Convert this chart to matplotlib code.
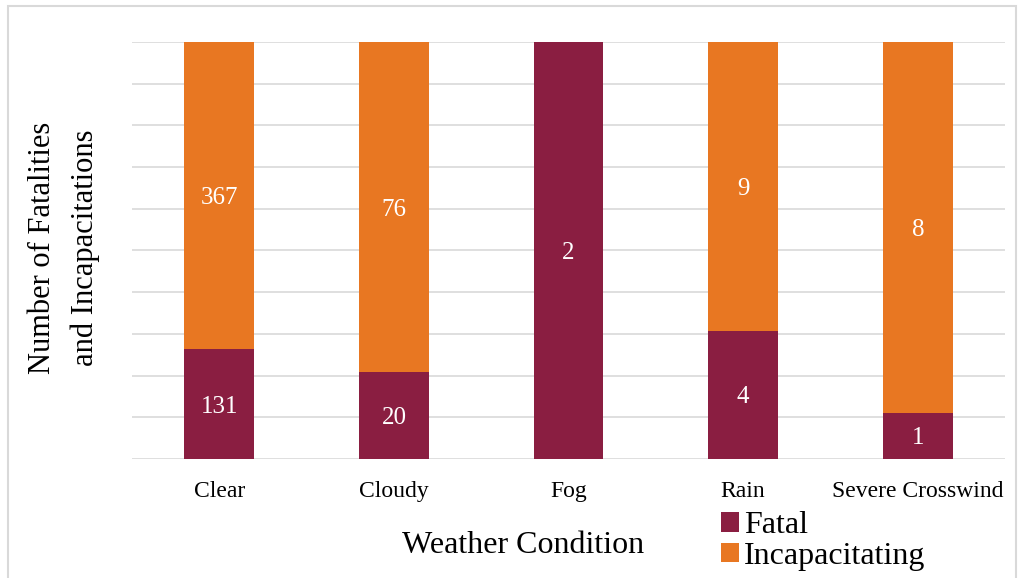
import numpy as np
import matplotlib.pyplot as plt
from matplotlib.patches import Rectangle

plt.rcParams['font.family'] = ['Liberation Serif', 'DejaVu Serif']

conditions = ['Clear', 'Cloudy', 'Fog', 'Rain', 'Severe Crosswind']
fatal = np.array([131, 20, 2, 4, 1])
incap = np.array([367, 76, 0, 9, 8])

fatal_color = '#8A1E41'
incap_color = '#E87722'

total = fatal + incap
fatal_pct = fatal / total * 100
incap_pct = incap / total * 100

fig = plt.figure(figsize=(10.18, 5.78), dpi=100)
ax = fig.add_axes([0.1297, 0.2059, 0.8576, 0.7215])

x = np.arange(len(conditions))
ax.bar(x, fatal_pct, width=0.4, color=fatal_color, label='Fatal', zorder=3)
ax.bar(x, incap_pct, width=0.4, bottom=fatal_pct, color=incap_color,
       label='Incapacitating', zorder=3)

for i in range(len(conditions)):
    if fatal[i] > 0:
        ax.text(x[i], fatal_pct[i] / 2, str(fatal[i]), ha='center',
                va='center_baseline', color='white', fontsize=18, zorder=4)
    if incap[i] > 0:
        ax.text(x[i], fatal_pct[i] + incap_pct[i] / 2, str(incap[i]), ha='center',
                va='center_baseline', color='white', fontsize=18, zorder=4)

ax.set_xlim(-0.5, len(conditions) - 0.5)
ax.set_ylim(0, 100)
ax.set_yticks(np.arange(0, 101, 10))
ax.set_yticklabels([])
ax.tick_params(axis='y', length=0)
ax.tick_params(axis='x', length=0, labelsize=17, pad=16)
ax.set_xticks(x)
ax.set_xticklabels(conditions)
ax.grid(axis='y', color='#d9d9d9', linewidth=1.2, zorder=0)
for s in ax.spines.values():
    s.set_visible(False)

fig.text(0.514, 0.057, 'Weather Condition', ha='center', va='center', fontsize=23)
fig.text(0.063, 0.571, 'Number of Fatalities\nand Incapacitations', ha='center',
         va='center', rotation=90, fontsize=22, linespacing=1.6)

handles, labels = ax.get_legend_handles_labels()
fig.legend(handles, labels, loc='center left', bbox_to_anchor=(0.693, 0.064),
           frameon=False, fontsize=23, handlelength=0.55, handleheight=0.55,
           handletextpad=0.15, labelspacing=0.05, borderpad=0)

fig.patches.append(Rectangle((0.008, -0.1), 0.99, 1.09, transform=fig.transFigure,
                             fill=False, edgecolor='#d9d9d9', linewidth=1.5))

fig.savefig('out.png', dpi=100)
